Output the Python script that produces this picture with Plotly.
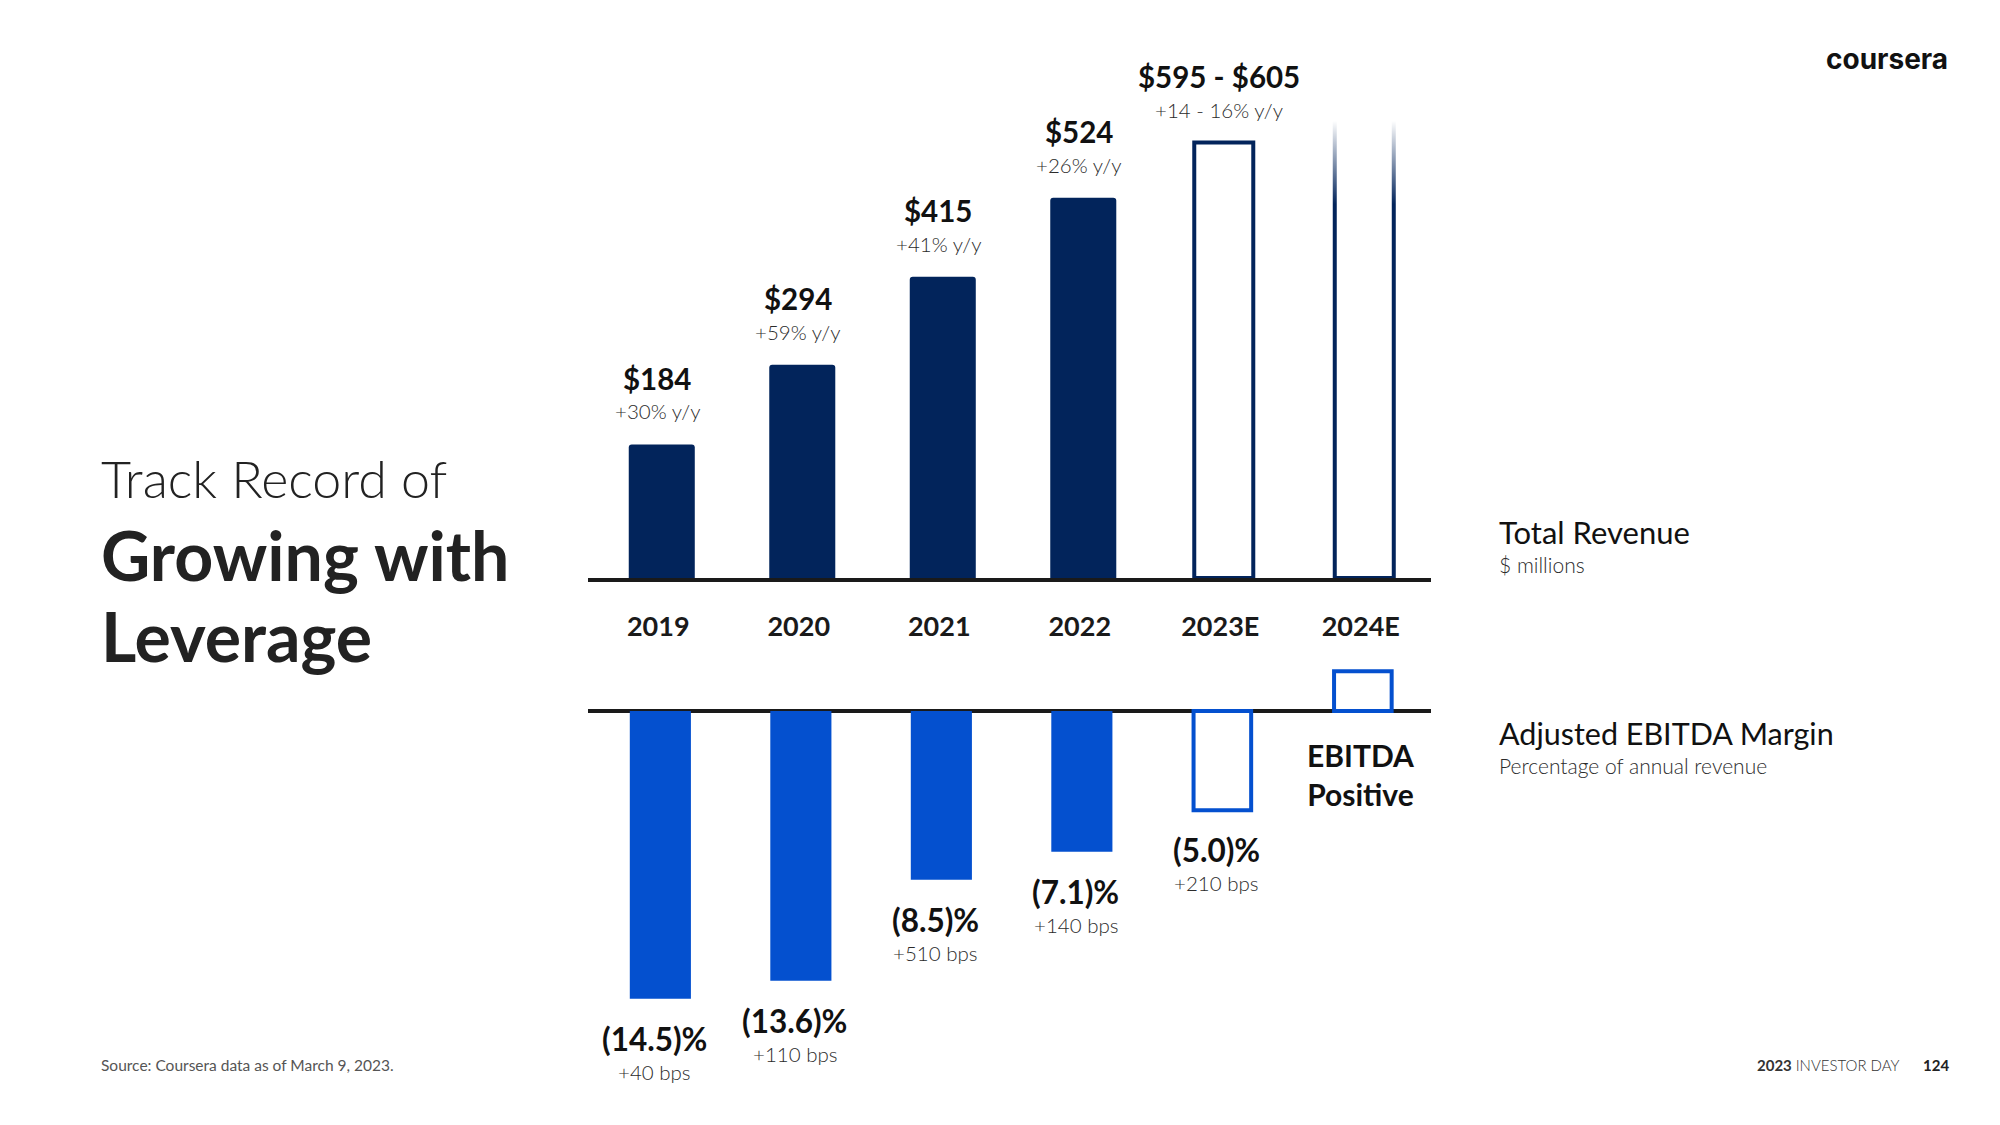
import plotly.graph_objects as go

# ---------------- data ----------------
years = ["2019", "2020", "2021", "2022", "2023E", "2024E"]
revenue = [184, 294, 415, 524, 600, 640]          # 2023E = midpoint of guidance, 2024E drawn height (faded)
revenue_labels = ["$184", "$294", "$415", "$524", "$595 - $605", ""]
revenue_growth = ["+30% y/y", "+59% y/y", "+41% y/y", "+26% y/y", "+14 - 16% y/y", ""]
revenue_actual = [True, True, True, True, False, False]

ebitda_margin = [-14.5, -13.6, -8.5, -7.1, -5.0, 2.0]
ebitda_labels = ["(14.5)%", "(13.6)%", "(8.5)%", "(7.1)%", "(5.0)%", ""]
ebitda_change = ["+40 bps", "+110 bps", "+510 bps", "+140 bps", "+210 bps", ""]
ebitda_actual = [True, True, True, True, False, False]

NAVY = "#02245B"
BLUE = "#0450CF"
INK = "#1a1a1a"
GREY = "#2b2b2b"
FONT = "Lato, 'Noto Sans', sans-serif"

W, H = 2000, 1125
SHIFT_TOP = 0.025   # bars sit slightly right of the category centre
SHIFT_BOT = 0.015

fig = go.Figure()

# --- top chart: revenue ---
act_x = [y for y, a in zip(years, revenue_actual) if a]
act_v = [v for v, a in zip(revenue, revenue_actual) if a]
est_x = [y for y, a in zip(years, revenue_actual) if not a]
est_v = [v for v, a in zip(revenue, revenue_actual) if not a]

fig.add_trace(go.Bar(x=act_x, y=act_v, width=0.47, offset=-0.235 + SHIFT_TOP,
                     marker=dict(color=NAVY, line=dict(width=0), cornerradius=3),
                     xaxis="x", yaxis="y", showlegend=False, hoverinfo="skip"))
fig.add_trace(go.Bar(x=est_x, y=est_v, width=0.42, offset=-0.21 + SHIFT_TOP,
                     marker=dict(color="white", line=dict(color=NAVY, width=4)),
                     xaxis="x", yaxis="y", showlegend=False, hoverinfo="skip"))

# --- bottom chart: EBITDA margin ---
eact_x = [y for y, a in zip(years, ebitda_actual) if a]
eact_v = [v for v, a in zip(ebitda_margin, ebitda_actual) if a]
eest_x = [y for y, a in zip(years, ebitda_actual) if not a]
eest_v = [v for v, a in zip(ebitda_margin, ebitda_actual) if not a]

fig.add_trace(go.Bar(x=eact_x, y=eact_v, width=0.435, offset=-0.2175 + SHIFT_BOT,
                     marker=dict(color=BLUE, line=dict(width=0)),
                     xaxis="x2", yaxis="y2", showlegend=False, hoverinfo="skip"))
fig.add_trace(go.Bar(x=eest_x, y=eest_v, width=0.41, offset=-0.205 + SHIFT_BOT,
                     marker=dict(color="white", line=dict(color=BLUE, width=4)),
                     xaxis="x2", yaxis="y2", showlegend=False, hoverinfo="skip"))

# fade-out overlay at the top of the 2024E revenue bar (white vertical gradient on a linear overlay axis)
fade_lo, fade_hi = 515, 650
idx = years.index("2024E") + SHIFT_TOP
fig.add_trace(go.Scatter(
    x=[idx - 0.33, idx + 0.33, idx + 0.33, idx - 0.33, idx - 0.33],
    y=[fade_lo, fade_lo, fade_hi, fade_hi, fade_lo],
    mode="lines", fill="toself", line=dict(width=0, color="rgba(255,255,255,0)"),
    fillgradient=dict(type="vertical",
                      colorscale=[[0, "rgba(255,255,255,0)"], [0.85, "rgba(255,255,255,1)"], [1, "rgba(255,255,255,1)"]]),
    xaxis="x3", yaxis="y", showlegend=False, hoverinfo="skip"))

# ---------------- layout geometry ----------------
x_dom = [588 / W, 1431 / W]
top_base_px, top_px_per_unit, top_top_px = 578, 0.7257, 60
y_dom = [1 - top_base_px / H, 1 - top_top_px / H]
y_rng = [0, (top_base_px - top_top_px) / top_px_per_unit]

bot_zero_px, bot_px_per_unit, bot_top_px, bot_bot_px = 711, 19.84, 660, 1110
y2_dom = [1 - bot_bot_px / H, 1 - bot_top_px / H]
y2_rng = [-(bot_bot_px - bot_zero_px) / bot_px_per_unit, (bot_zero_px - bot_top_px) / bot_px_per_unit]

fig.update_layout(
    width=W, height=H, margin=dict(l=0, r=0, t=0, b=0),
    paper_bgcolor="white", plot_bgcolor="rgba(0,0,0,0)",
    barmode="overlay", font=dict(family=FONT, color=INK),
    xaxis=dict(domain=x_dom, anchor="y", type="category", categoryorder="array", categoryarray=years,
               range=[-0.5, 5.5], showline=True, linecolor=INK, linewidth=4, ticks="",
               showgrid=False, zeroline=False, ticklabelstandoff=22,
               tickfont=dict(family=FONT, size=27, color=INK, weight=700), fixedrange=True),
    xaxis3=dict(domain=x_dom, anchor="y", overlaying="x", type="linear", range=[-0.5, 5.5], visible=False),
    yaxis=dict(domain=y_dom, anchor="x", range=y_rng, visible=False),
    xaxis2=dict(domain=x_dom, anchor="y2", type="category", categoryorder="array", categoryarray=years,
                range=[-0.5, 5.5], showticklabels=False, showline=False, showgrid=False, zeroline=False, ticks=""),
    yaxis2=dict(domain=y2_dom, anchor="x2", range=y2_rng, showgrid=False, showticklabels=False, ticks="",
                zeroline=True, zerolinecolor=INK, zerolinewidth=4, showline=False),
)

ann = []
# revenue labels (x given as category index)
for i, (v, lab, g) in enumerate(zip(revenue, revenue_labels, revenue_growth)):
    if lab:
        ann.append(dict(x=i, y=v, xref="x", yref="y", text=lab, showarrow=False, yanchor="middle",
                        yshift=66, xshift=-1, font=dict(size=29.5, color="#111111", weight=700)))
        ann.append(dict(x=i, y=v, xref="x", yref="y", text=g, showarrow=False, yanchor="middle",
                        yshift=33, xshift=-1, font=dict(size=20.5, color=GREY, weight=300)))
# ebitda labels
for i, (v, lab, c) in enumerate(zip(ebitda_margin, ebitda_labels, ebitda_change)):
    if lab:
        ann.append(dict(x=i, y=v, xref="x2", yref="y2", text=lab, showarrow=False, yanchor="middle",
                        yshift=-40, xshift=-4, font=dict(size=31.5, color="#111111", weight=700)))
        ann.append(dict(x=i, y=v, xref="x2", yref="y2", text=c, showarrow=False, yanchor="middle",
                        yshift=-73, xshift=-4, font=dict(size=20.5, color=GREY, weight=300)))
ann.append(dict(x=len(years) - 1, y=0, xref="x2", yref="y2", text="EBITDA<br>Positive", showarrow=False,
                yanchor="middle", yshift=-63, font=dict(size=30, color="#111111", weight=700)))

# titles and side labels
ann += [
    dict(x=99 / W, y=1 - 478 / H, xref="paper", yref="paper", xanchor="left", yanchor="middle",
         text="Track Record of", showarrow=False, font=dict(size=52, color="#222222", weight=300)),
    dict(x=99 / W, y=1 - 554 / H, xref="paper", yref="paper", xanchor="left", yanchor="middle",
         text="Growing with", showarrow=False, font=dict(size=68, color="#222222", weight=700)),
    dict(x=99 / W, y=1 - 635 / H, xref="paper", yref="paper", xanchor="left", yanchor="middle",
         text="Leverage", showarrow=False, font=dict(size=68, color="#222222", weight=700)),
    dict(x=1497 / W, y=1 - 532 / H, xref="paper", yref="paper", xanchor="left", yanchor="middle",
         text="Total Revenue", showarrow=False, font=dict(size=31, color="#111111", weight=400)),
    dict(x=1497 / W, y=1 - 564 / H, xref="paper", yref="paper", xanchor="left", yanchor="middle",
         text="$ millions", showarrow=False, font=dict(size=21, color=GREY, weight=300)),
    dict(x=1497 / W, y=1 - 733 / H, xref="paper", yref="paper", xanchor="left", yanchor="middle",
         text="Adjusted EBITDA Margin", showarrow=False, font=dict(size=30.5, color="#111111", weight=400)),
    dict(x=1497 / W, y=1 - 765 / H, xref="paper", yref="paper", xanchor="left", yanchor="middle",
         text="Percentage of annual revenue", showarrow=False, font=dict(size=21, color=GREY, weight=300)),
    dict(x=99 / W, y=1 - 1065 / H, xref="paper", yref="paper", xanchor="left", yanchor="middle",
         text="Source: Coursera data as of March 9, 2023.", showarrow=False,
         font=dict(size=15.5, color="#555555", weight=400)),
    dict(x=1902 / W, y=1 - 1065 / H, xref="paper", yref="paper", xanchor="right", yanchor="middle",
         text="<b>2023</b> <span style='font-weight:300'>INVESTOR DAY</span>", showarrow=False,
         font=dict(size=15, color="#333333")),
    dict(x=1951 / W, y=1 - 1065 / H, xref="paper", yref="paper", xanchor="right", yanchor="middle",
         text="<b>124</b>", showarrow=False, font=dict(size=15, color="#222222")),
    dict(x=1950 / W, y=1 - 59 / H, xref="paper", yref="paper", xanchor="right", yanchor="middle",
         text="coursera", showarrow=False, font=dict(family="Inter, sans-serif", size=28, color="#111111", weight=700)),
]
fig.update_layout(annotations=ann)

fig.write_html("out.html", config={"displayModeBar": False, "staticPlot": True},
               post_script="document.body.style.margin='0';document.body.style.overflow='hidden';")
